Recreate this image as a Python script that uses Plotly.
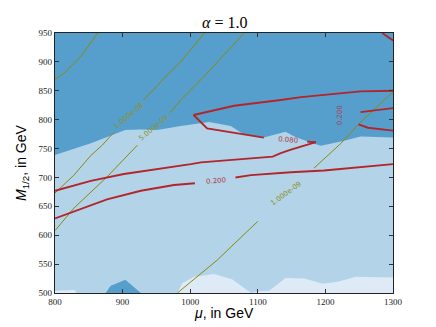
import plotly.graph_objects as go

# ---------------- data ----------------
# boundary between dark-blue (upper) and light-blue (lower) regions
boundary_mu = [800, 853, 904, 927, 951, 986, 1028, 1060, 1080, 1109, 1141, 1154, 1174, 1193, 1223, 1252, 1300]
boundary_m = [739, 759, 782, 783, 782, 789, 796, 789, 774, 769, 779, 771, 762, 755, 762, 771, 769]

# very light region at the bottom right
vlight_mu = [981, 988, 1006, 1035, 1062, 1090, 1102, 1117, 1141, 1169, 1196, 1220, 1245, 1300, 1300]
vlight_m = [500, 517, 528, 533, 524, 500, 503, 504, 526, 525, 516, 520, 528, 527, 500]

# tiny very light patch at bottom left
vlight2_mu = [800, 800, 829, 832]
vlight2_m = [500, 504, 505, 500]

# dark patch at bottom
dpatch_mu = [875, 882, 904, 927]
dpatch_m = [500, 512, 523, 500]

# red contours
red_080_mu = [1300, 1252, 1164, 1134, 1065, 1016, 1005, 1025, 1075, 1109, None, 1173, 1186]
red_080_m = [850, 849, 839, 834, 824, 811, 808, 785, 776, 769, None, 762, 761]

red_low_mu = [800, 828, 877, 927, 976, 1007, None, 1067, 1090, 1149, 1198, 1300]
red_low_m = [629, 641, 662, 677, 687, 690, None, 700, 704, 709, 712, 723]

red_up_mu = [800, 853, 902, 951, 1001, 1016, 1075, 1122, 1134, 1149, 1186]
red_up_m = [677, 694, 706, 714, 723, 726, 731, 736, 742, 748, 761]

red_r1_mu = [1252, 1300]
red_r1_m = [813, 820]

red_r2_mu = [1249, 1263, 1300]
red_r2_m = [792, 786, 781]

red_corner_mu = [1284, 1300]
red_corner_m = [950, 937]

# olive contours
olive_1_mu = [800, 813, 838, 863]
olive_1_m = [870, 880, 909, 950]

olive_2_mu = [800, 828, 853, 870, 887, None, 931, 949, 966, 986, 1021]
olive_2_m = [673, 704, 738, 756, 778, None, 834, 857, 877, 900, 950]

olive_3_mu = [800, 828, 877, 906, 922, None, 970, 986, 1019, 1043, 1080]
olive_3_m = [608, 647, 701, 737, 756, None, 812, 834, 873, 903, 950]

olive_4_mu = [981, 1016, 1040, 1065, 1100, None, 1183, 1196, 1213, 1223, 1248, 1272, 1300]
olive_4_m = [500, 534, 557, 585, 624, None, 716, 730, 747, 759, 791, 817, 848]

# contour labels
red_label_text = ["0.080", "0.200", "0.200"]
red_label_mu = [1144, 1038, 1222]
red_label_m = [764, 694.5, 808]
red_label_angle = [5, -5, -90]

olive_label_text = ["1.000e-08", "5.000e-09", "1.000e-09"]
olive_label_mu = [909, 946, 1141]
olive_label_m = [806, 785, 672]
olive_label_angle = [-40, -40, -36]

x_ticks = [800, 900, 1000, 1100, 1200, 1300]
y_ticks = [500, 550, 600, 650, 700, 750, 800, 850, 900, 950]

# ---------------- styling ----------------
DARK = "#569fcd"
LIGHT = "#b3d3e8"
VLIGHT = "#deebf7"
RED = "#b2252b"
OLIVE = "#8a8a0a"
SERIF = "Liberation Serif"

fig = go.Figure()

# light region (below boundary)
fig.add_trace(go.Scatter(
    x=boundary_mu + [1300, 800], y=boundary_m + [500, 500],
    fill="toself", fillcolor=LIGHT, mode="none", hoverinfo="skip", showlegend=False))
fig.add_trace(go.Scatter(
    x=vlight_mu, y=vlight_m, fill="toself", fillcolor=VLIGHT, mode="none",
    hoverinfo="skip", showlegend=False))
fig.add_trace(go.Scatter(
    x=vlight2_mu, y=vlight2_m, fill="toself", fillcolor=VLIGHT, mode="none",
    hoverinfo="skip", showlegend=False))
fig.add_trace(go.Scatter(
    x=dpatch_mu, y=dpatch_m, fill="toself", fillcolor=DARK, mode="none",
    hoverinfo="skip", showlegend=False))

for xs, ys in [(olive_1_mu, olive_1_m), (olive_2_mu, olive_2_m),
               (olive_3_mu, olive_3_m), (olive_4_mu, olive_4_m)]:
    fig.add_trace(go.Scatter(x=xs, y=ys, mode="lines",
                             line=dict(color=OLIVE, width=1),
                             hoverinfo="skip", showlegend=False, connectgaps=False))

for xs, ys in [(red_080_mu, red_080_m), (red_low_mu, red_low_m), (red_up_mu, red_up_m),
               (red_r1_mu, red_r1_m), (red_r2_mu, red_r2_m), (red_corner_mu, red_corner_m)]:
    fig.add_trace(go.Scatter(x=xs, y=ys, mode="lines",
                             line=dict(color=RED, width=1.9),
                             hoverinfo="skip", showlegend=False, connectgaps=False))

annotations = []
for t, x, y, a in zip(red_label_text, red_label_mu, red_label_m, red_label_angle):
    annotations.append(dict(x=x, y=y, xref="x", yref="y", text=t, showarrow=False,
                            textangle=a, font=dict(family="DejaVu Sans", size=7, color="#b23a45")))
for t, x, y, a in zip(olive_label_text, olive_label_mu, olive_label_m, olive_label_angle):
    annotations.append(dict(x=x, y=y, xref="x", yref="y", text=t, showarrow=False,
                            textangle=a, font=dict(family="DejaVu Sans", size=7, color="#8f8f1a")))

# titles
annotations.append(dict(x=0.5, y=1.0, xref="paper", yref="paper", yanchor="bottom",
                        yshift=0, showarrow=False,
                        text="<i>α</i> = 1.0",
                        font=dict(family=SERIF, size=16, color="black")))
annotations.append(dict(x=0.5, y=0, xref="paper", yref="paper", yanchor="top",
                        yshift=-10, showarrow=False,
                        text="<i>μ</i>, in GeV",
                        font=dict(family="Liberation Sans", size=14, color="black")))
annotations.append(dict(x=0, y=0.5, xref="paper", yref="paper", xanchor="right",
                        xshift=-22, showarrow=False, textangle=-90,
                        text="<i>M</i><sub>1/2</sub>, in GeV",
                        font=dict(family="Liberation Sans", size=14, color="black")))

fig.update_layout(
    width=428, height=319, autosize=False,
    margin=dict(l=47, r=43, t=25, b=34),
    paper_bgcolor="white", plot_bgcolor=DARK,
    annotations=annotations,
    showlegend=False,
)
axis_common = dict(showgrid=False, zeroline=False, showline=True, linecolor="#222",
                   linewidth=1.2, mirror="ticks", ticks="inside", ticklen=4,
                   tickcolor="#333", tickwidth=1,
                   tickfont=dict(family=SERIF, size=9, color="#222"))
fig.update_xaxes(range=[800, 1300], tickvals=x_ticks,
                 ticktext=[str(v) for v in x_ticks], **axis_common)
fig.update_yaxes(range=[500, 950], tickvals=y_ticks,
                 ticktext=[str(v) for v in y_ticks], **axis_common)

fig.write_html("out.html")
